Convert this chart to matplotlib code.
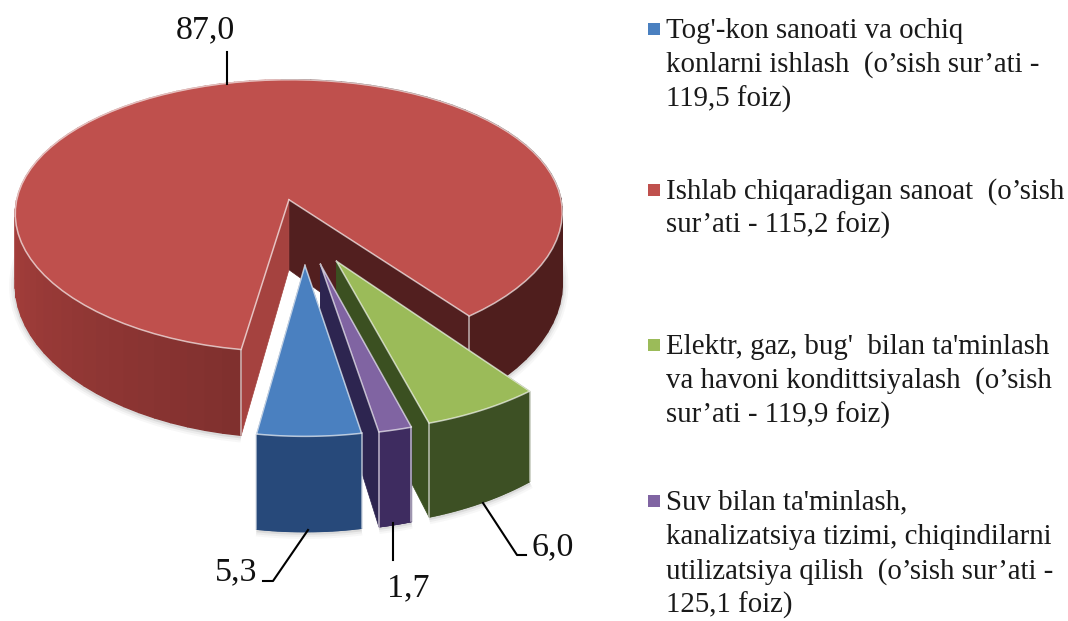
import numpy as np
import matplotlib
matplotlib.use('Agg')
import matplotlib.pyplot as plt

plt.rcParams['font.family'] = ['Liberation Serif', 'DejaVu Serif']

# data, in legend order
names = ['tog', 'ishlab', 'elektr', 'suv']
values = [5.3, 87.0, 6.0, 1.7]
value_labels = ['5,3', '87,0', '6,0', '1,7']
top_colors = ['#4a80c0', '#bf504d', '#9bbb59', '#8064a2']
wall_colors = ['#27497a', '#7f302e', '#3d5024', '#3e2c60']
cut_colors = ['#27497a', '#a5423f', '#3b5021', '#2d2550']
legend_lines = [
    ["Tog'-kon sanoati va ochiq", "konlarni ishlash  (o’sish sur’ati -", "119,5 foiz)"],
    ["Ishlab chiqaradigan sanoat  (o’sish", "sur’ati - 115,2 foiz)"],
    ["Elektr, gaz, bug'  bilan ta'minlash", "va havoni kondittsiyalash  (o’sish", "sur’ati - 119,9 foiz)"],
    ["Suv bilan ta'minlash,", "kanalizatsiya tizimi, chiqindilarni", "utilizatsiya qilish  (o’sish sur’ati -", "125,1 foiz)"],
]
legend_y = [30.5, 191.5, 346.5, 502.5]

# projection settings, hand fitted
CX, CY = 304, 229
RX, RY = 278, 141
KX, KY = 0.10, 0.12
DEPTH = 73
EXPLODE_BIG = 0.22
EXPLODE_SMALL = 0.25
START = 38.0  # right edge of the big slice, degrees from the front


def proj(x, y, z=0.0):
    x, y = np.asarray(x, float), np.asarray(y, float)
    p = 1 / (1 + KX * y)
    return CX + RX * x * p, CY - RY * y / (1 + KY * y) + DEPTH * z * p ** 2


def arc(a0, a1, ox, oy, n=90):
    t = np.radians(np.linspace(a0, a1, n))
    return ox + np.sin(t), oy - np.cos(t)


def shade(c, f):
    return tuple(min(1, v * f) for v in matplotlib.colors.to_rgb(c))


def red_wall(a):
    a = (a + 180) % 360 - 180
    return np.interp(a, [-180, -90, -10, 38, 180], [1.3, 1.32, 1.0, 0.62, 0.62])


def draw_slice(ax, a0, a1, i, z):
    mid = np.radians((a0 + a1) / 2)
    e = EXPLODE_BIG if i == 1 else EXPLODE_SMALL
    ox, oy = e * np.sin(mid), -e * np.cos(mid)
    ax_, ay_ = arc(a0, a1, ox, oy)

    # soft shadow under the outer rim
    bx, by = proj(ax_, ay_, 1)
    for lw, al in [(9, 0.04), (6, 0.06), (3, 0.10)]:
        ax.plot(bx, by + 1, color='#404040', alpha=al, lw=lw, zorder=z, solid_capstyle='butt')

    # cut faces
    for a in (a0, a1):
        ex, ey = arc(a, a, ox, oy, 1)
        x0, y0 = proj([ox, ex[0]], [oy, ey[0]], 0)
        x1, y1 = proj([ox, ex[0]], [oy, ey[0]], 1)
        col = cut_colors[i]
        if i == 1 and abs(a - START) < 1e-6:
            col = '#521f1f'
        ax.fill([x0[0], x0[1], x1[1], x1[0]], [y0[0], y0[1], y1[1], y1[0]], color=col, lw=0.5, zorder=z + 1)
        ax.plot([x0[1], x1[1]], [y0[1], y1[1]], color='white', alpha=0.65, lw=1.1, zorder=z + 3)

    # outer wall, back to front
    sx0, sy0 = proj(ax_, ay_, 0)
    sx1, sy1 = proj(ax_, ay_, 1)
    angs = np.linspace(a0, a1, len(ax_))
    for k in np.argsort(-ay_[:-1]):
        f = red_wall(angs[k]) if i == 1 else 1.0
        ax.fill([sx0[k], sx0[k + 1], sx1[k + 1], sx1[k]], [sy0[k], sy0[k + 1], sy1[k + 1], sy1[k]],
                color=shade(wall_colors[i], f), lw=1.0, zorder=z + 2)

    # top face
    tx, ty = proj(np.r_[ox, ax_, ox], np.r_[oy, ay_, oy], 0)
    ax.fill(tx, ty, color=top_colors[i], lw=0, zorder=z + 4)
    ax.plot(tx, ty, color='white', alpha=0.65, lw=1.1, zorder=z + 5)


fig = plt.figure(figsize=(10.68, 6.21), dpi=100)
ax = fig.add_axes([0, 0, 1, 1])
ax.set_xlim(0, 1068)
ax.set_ylim(621, 0)
ax.axis('off')

# slices run from the front edge of the big one: red, then green, purple, blue
sweep = np.array(values) / sum(values) * 360
a_red = (START, START + sweep[1])
a_green = (START - sweep[2], START)
a_purple = (a_green[0] - sweep[3], a_green[0])
a_blue = (a_purple[0] - sweep[0], a_purple[0])
draw_slice(ax, a_red[0], a_red[1], 1, 10)
draw_slice(ax, a_green[0], a_green[1], 2, 20)
draw_slice(ax, a_purple[0], a_purple[1], 3, 30)
draw_slice(ax, a_blue[0], a_blue[1], 0, 40)

# value labels and their leader lines
leaders = [
    ([308, 273, 263], [530, 581, 581], (236, 572)),
    ([227, 227], [84, 52], (205, 30)),
    ([483, 517, 526], [503, 555, 555], (553, 547)),
    ([393, 393], [523, 560], (408, 588)),
]
for lab, (lx, ly, pos) in zip(value_labels, leaders):
    ax.plot(lx, ly, color='black', lw=1.5, zorder=60)
    ax.text(pos[0], pos[1], lab, fontsize=24.5, ha='center', va='center', color='#111111', zorder=60)

# legend
for i in range(4):
    y = legend_y[i]
    ax.scatter([654], [y - 2], marker='s', s=80, color=top_colors[i], lw=0, zorder=60)
    for j, line in enumerate(legend_lines[i]):
        ax.text(666, y + j * 34.3, line, fontsize=20.8, va='center', ha='left', color='#1a1a1a', zorder=60)

fig.savefig('out.png', dpi=100)
